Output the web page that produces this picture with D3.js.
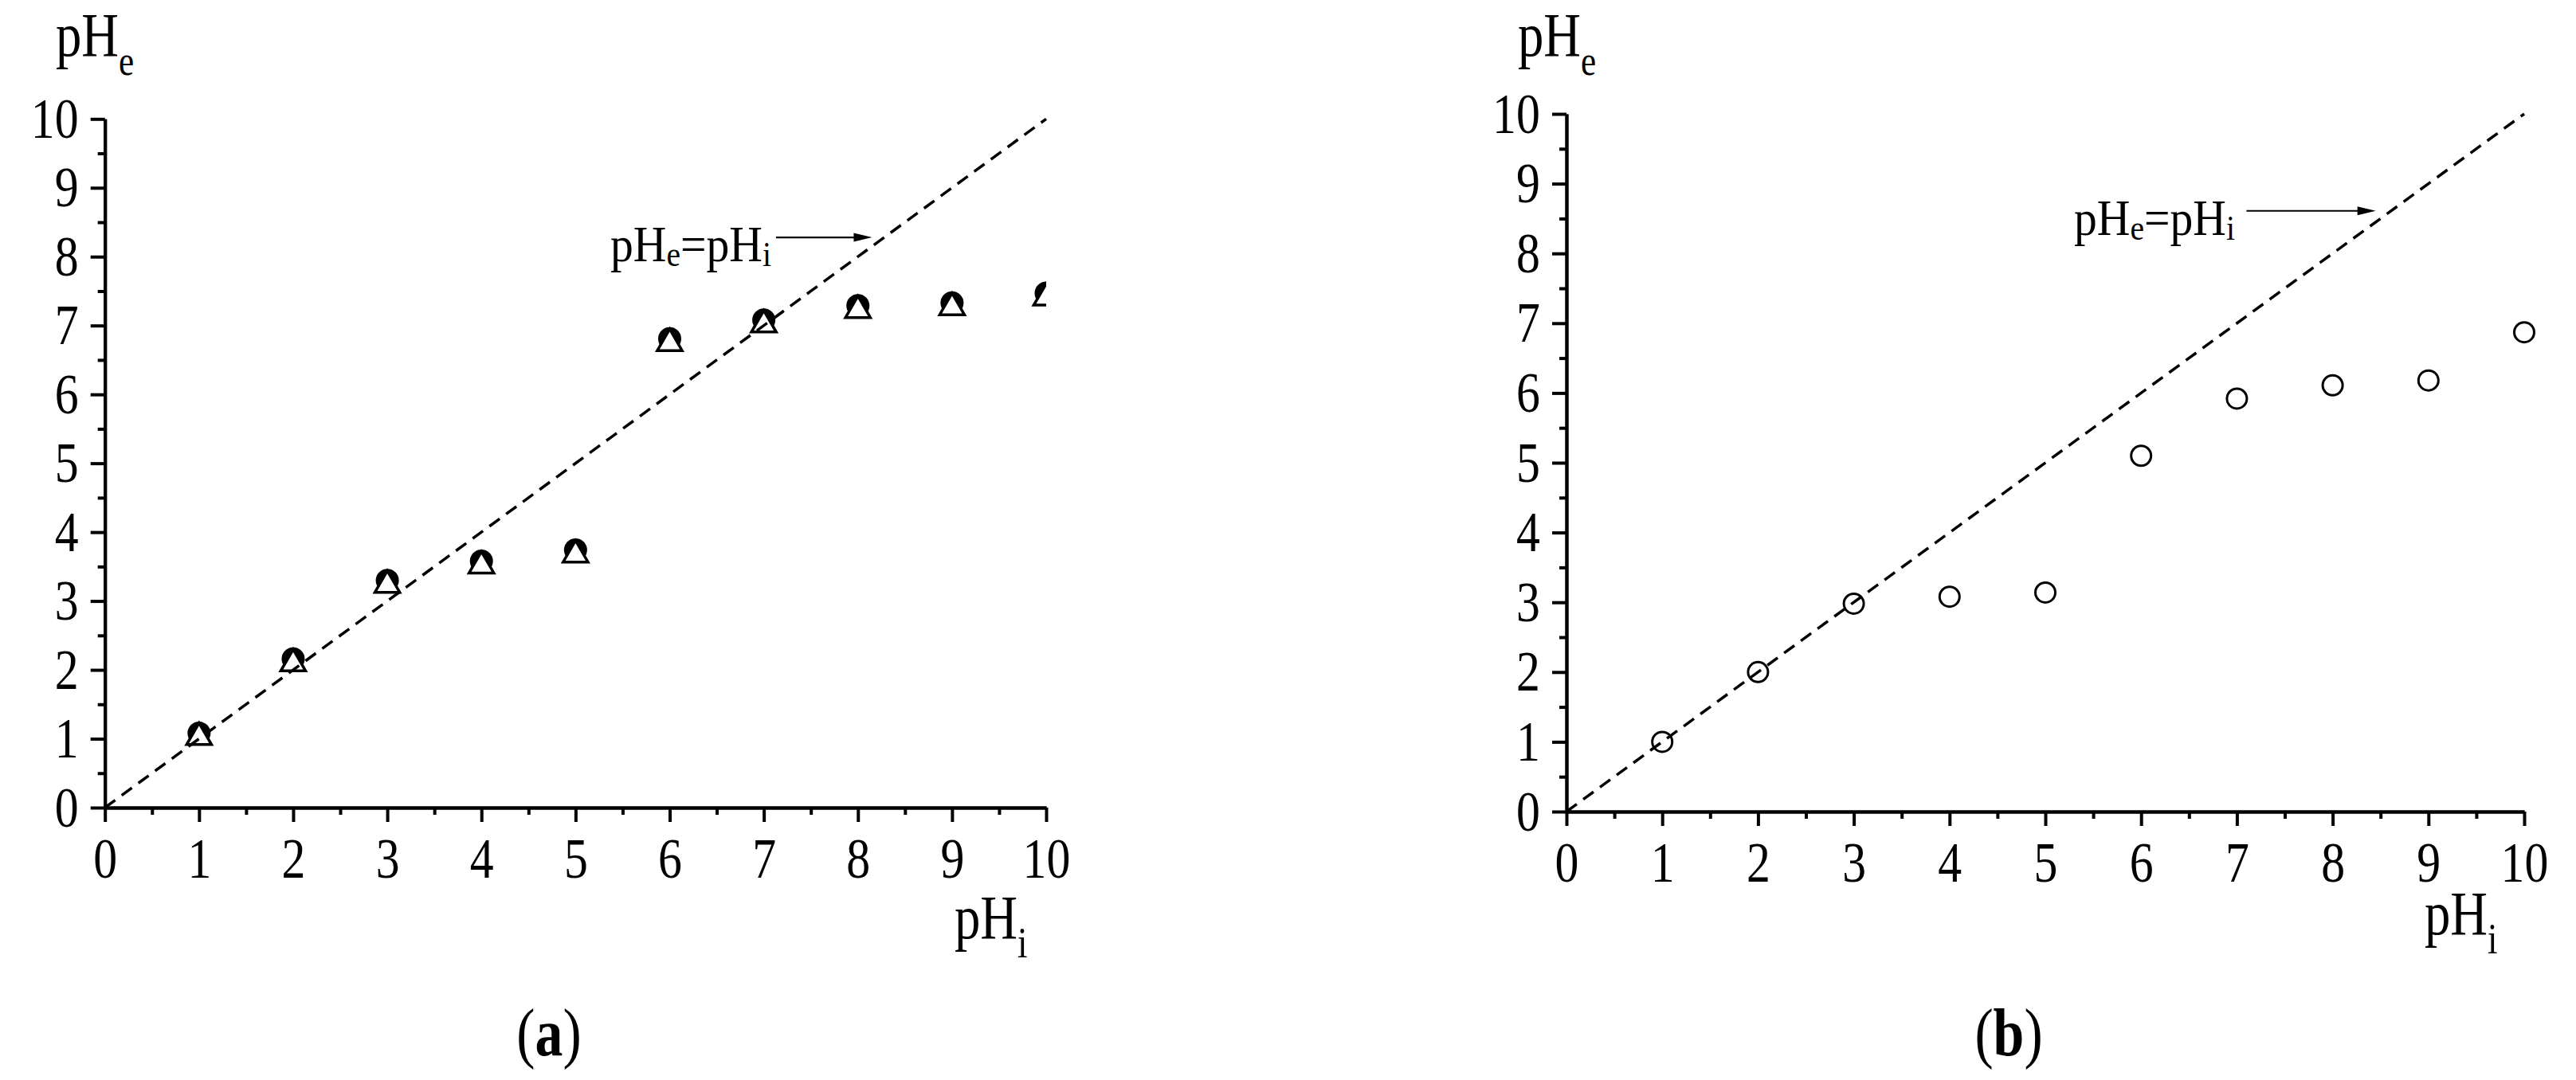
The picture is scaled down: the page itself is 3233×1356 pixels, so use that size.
<!DOCTYPE html>
<html>
<head>
<meta charset="utf-8">
<script src="https://cdn.jsdelivr.net/npm/d3@7"></script>
<style>
  body { margin: 0; background: #fff; }
  svg { display: block; background: #fff; }
  text { font-family: "Liberation Serif", "Times New Roman", serif; fill: #000; }
</style>
</head>
<body>
<svg id="chart" width="3233" height="1356"></svg>
<script>
// initial pH, the same for both panels
var phInitial = [1, 2, 3, 4, 5, 6, 7, 8, 9, 10];
// panel (a): two series that nearly overlap (filled circles under open triangles)
var phEqCircleA   = [1.08, 2.16, 3.30, 3.58, 3.74, 6.81, 7.08, 7.29, 7.33, 7.47];
var phEqTriangleA = [1.02, 2.09, 3.23, 3.51, 3.67, 6.74, 7.01, 7.22, 7.26, 7.40];
// panel (b): open circles
var phEqB = [1.00, 2.00, 2.98, 3.08, 3.14, 5.10, 5.92, 6.11, 6.18, 6.87];

var majorTicks = [0, 1, 2, 3, 4, 5, 6, 7, 8, 9, 10];
var minorTicks = [0.5, 1.5, 2.5, 3.5, 4.5, 5.5, 6.5, 7.5, 8.5, 9.5];
var identityLine = [0, 10];   // pHe = pHi

var svg = d3.select("#chart");
var sx = 0.83;   // the original glyphs are narrower than Liberation Serif

// text with subscripts, parts = [[string, isSub], ...]
function label(g, px, py, size, subSize, subDy, parts, scaleX) {
  var t = g.append("text")
    .attr("transform", "translate(" + px + "," + py + ") scale(" + (scaleX || sx) + ",1)")
    .attr("font-size", size);
  var down = false;
  parts.forEach(function (p) {
    var s = t.append("tspan").text(p[0]);
    if (p[1]) {
      s.attr("font-size", subSize).attr("dy", down ? 0 : subDy);
      down = true;
    } else {
      s.attr("dy", down ? -subDy : 0);
      down = false;
    }
  });
  return t;
}

function styleAxis(sel) {
  sel.select(".domain").attr("stroke", "#000").attr("stroke-width", 4);
  sel.selectAll(".tick line").attr("stroke", "#000").attr("stroke-width", 4);
  sel.selectAll(".tick text")
    .attr("font-family", "Liberation Serif, serif")
    .attr("font-size", 72)
    .attr("fill", "#000")
    .attr("transform", "scale(" + sx + ",1)");
}

function drawPanel(p) {
  var x = d3.scaleLinear().domain([0, 10]).range([p.left, p.right]);
  var y = d3.scaleLinear().domain([0, 10]).range([p.bottom, p.top]);
  var g = svg.append("g");

  // minor ticks first, major ticks and axis lines on top
  g.append("g").attr("transform", "translate(0," + p.bottom + ")")
    .call(d3.axisBottom(x).tickValues(minorTicks).tickSize(9).tickSizeOuter(0).tickFormat(""))
    .call(styleAxis);
  g.append("g").attr("transform", "translate(" + p.left + ",0)")
    .call(d3.axisLeft(y).tickValues(minorTicks).tickSize(9).tickSizeOuter(0).tickFormat(""))
    .call(styleAxis);
  g.append("g").attr("transform", "translate(0," + p.bottom + ")")
    .call(d3.axisBottom(x).tickValues(majorTicks).tickSize(18).tickSizeOuter(0).tickPadding(19).tickFormat(d3.format("d")))
    .call(styleAxis);
  g.append("g").attr("transform", "translate(" + p.left + ",0)")
    .call(d3.axisLeft(y).tickValues(majorTicks).tickSize(18).tickSizeOuter(0).tickPadding(22).tickFormat(d3.format("d")))
    .call(styleAxis);

  // data
  var clipId = "clip-" + p.name;
  svg.append("clipPath").attr("id", clipId).append("rect")
    .attr("x", p.left - 40).attr("y", p.top - 40)
    .attr("width", (p.clip ? p.right : p.right + 40) - p.left + 40)
    .attr("height", p.bottom - p.top + 80);
  var marks = g.append("g").attr("clip-path", "url(#" + clipId + ")");
  p.draw(marks, x, y);

  // pHe = pHi reference line
  g.append("path")
    .datum(identityLine)
    .attr("fill", "none")
    .attr("stroke", "#000")
    .attr("stroke-width", 3.5)
    .attr("stroke-dasharray", "16,10")
    .attr("d", d3.line().x(function (d) { return x(d); }).y(function (d) { return y(d); }));

  // annotation with arrow
  var a = p.note;
  label(g, x(a.textX), y(a.textY), 64, 44, 6, [["pH"], ["e", 1], ["=pH"], ["i", 1]], 0.9);
  g.append("line")
    .attr("x1", x(a.from)).attr("x2", x(a.to) - 18)
    .attr("y1", y(a.arrowY)).attr("y2", y(a.arrowY))
    .attr("stroke", "#000").attr("stroke-width", 2.2);
  var tx = x(a.to), ty = y(a.arrowY);
  g.append("path")
    .attr("d", "M" + tx + "," + ty + "L" + (tx - 23) + "," + (ty - 5.5) + "L" + (tx - 23) + "," + (ty + 5.5) + "Z")
    .attr("fill", "#000");

  // axis titles
  label(g, p.yTitle[0], p.yTitle[1], 78, 52, 24, [["pH"], ["e", 1]]);
  label(g, p.xTitle[0], p.xTitle[1], 78, 54, 24, [["pH"], ["i", 1]]);

  // caption
  var cap = g.append("text")
    .attr("transform", "translate(" + p.caption[0] + "," + p.caption[1] + ") scale(" + sx + ",1)")
    .attr("font-size", 84)
    .attr("text-anchor", "middle");
  cap.append("tspan").text("(");
  cap.append("tspan").attr("font-weight", "bold").text(p.name);
  cap.append("tspan").text(")");
}

drawPanel({
  name: "a", left: 131.7, right: 1313, bottom: 1014, top: 149.3, clip: true,
  yTitle: [70, 70], xTitle: [1198, 1178], caption: [689, 1325],
  note: { textX: 5.37, textY: 7.93, from: 7.13, to: 8.15, arrowY: 8.28 },
  draw: function (m, x, y) {
    m.selectAll("circle.c").data(phInitial).enter().append("circle")
      .attr("class", "c")
      .attr("cx", function (d) { return x(d); })
      .attr("cy", function (d, i) { return y(phEqCircleA[i]); })
      .attr("r", 14.5)
      .attr("fill", "#000");
    m.selectAll("path.t").data(phInitial).enter().append("path")
      .attr("class", "t")
      .attr("transform", function (d, i) { return "translate(" + x(d) + "," + y(phEqTriangleA[i]) + ")"; })
      .attr("d", d3.symbol(d3.symbolTriangle, 420))
      .attr("fill", "#fff")
      .attr("stroke", "#000")
      .attr("stroke-width", 3.5);
  }
});

drawPanel({
  name: "b", left: 1966, right: 3168, bottom: 1019, top: 143, clip: false,
  yTitle: [1905, 70], xTitle: [3043, 1173], caption: [2521, 1325],
  note: { textX: 5.30, textY: 8.26, from: 7.10, to: 8.45, arrowY: 8.61 },
  draw: function (m, x, y) {
    m.selectAll("circle").data(phInitial).enter().append("circle")
      .attr("cx", function (d) { return x(d); })
      .attr("cy", function (d, i) { return y(phEqB[i]); })
      .attr("r", 12.5)
      .attr("fill", "none")
      .attr("stroke", "#000")
      .attr("stroke-width", 3);
  }
});
</script>
</body>
</html>
